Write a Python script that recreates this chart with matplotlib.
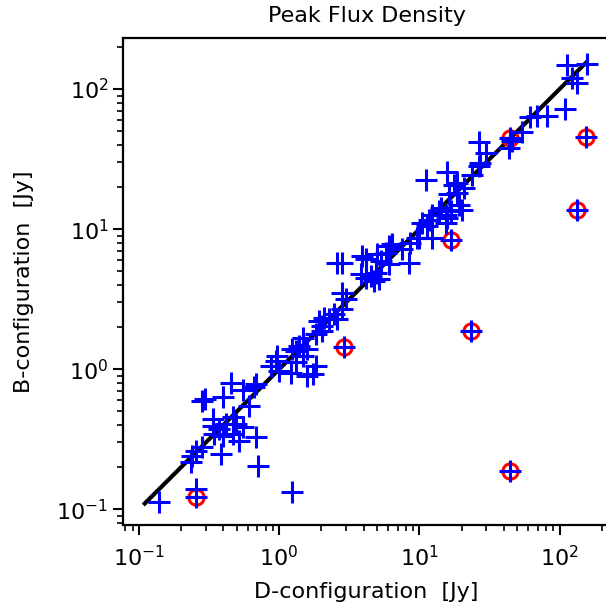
import numpy as np
import matplotlib
matplotlib.use('Agg')
import matplotlib.pyplot as plt

# D-configuration vs B-configuration peak flux (Jy)
d_flux = [112.7, 156, 122, 134, 110, 81.2, 68.9, 61.9, 53.9, 44.6,
          45.5, 43.4, 26.5, 30.1, 27.3, 26.5, 23.8, 154, 134, 11.07,
          15.8, 17.6, 20.7, 18.6, 16.2, 19.1, 12.3, 13.8, 15.4, 15.4,
          10.5, 11.7, 12.3, 9.92, 16.8, 6.40, 7.54, 5.75, 5.29, 8.42,
          6.07, 3.92, 4.14, 2.60, 2.82, 4.88, 4.49, 4.14, 4.75, 5.15,
          2.82, 2.98, 2.82, 2.46, 2.27, 2.09, 1.93, 2.03, 2.60, 2.90,
          23.4, 1.39, 1.31, 1.47, 1.24, 1.31, 1.21, 1.59, 1.82, 0.947,
          0.873, 1.0, 0.453, 0.548, 0.664, 0.611, 0.395, 0.284, 0.297, 0.683,
          0.465, 0.335, 0.335, 0.374, 0.417, 0.492, 0.548, 0.345, 0.395, 0.465,
          0.519, 0.683, 0.284, 0.255, 0.241, 0.235, 0.385, 0.701, 0.255, 0.255,
          0.138, 1.23, 44.6, 1.47, 1.82, 2.03, 0.973, 1.59, 1.73, 3.81,
          5.01, 20.2, 14.2, 16.7, 15.8, 11.4, 9.64, 8.65, 6.07, 18.6]
b_flux = [149, 151, 120, 110.5, 72.5, 64.6, 64.6, 63.2, 49.1, 44.8,
          42.4, 38.0, 41.7, 35.0, 29.7, 28.1, 24.5, 45.6, 13.8, 22.6,
          25.5, 20.8, 19.7, 18.2, 17.7, 14.8, 12.7, 13.4, 12.7, 11.1,
          11.1, 11.7, 8.68, 8.68, 8.35, 7.78, 7.17, 6.79, 5.92, 5.76,
          5.60, 6.42, 6.08, 5.76, 5.76, 4.89, 4.62, 4.50, 4.26, 4.38,
          3.52, 3.16, 2.68, 2.47, 2.27, 2.34, 2.21, 2.04, 2.27, 1.43,
          1.87, 1.47, 1.35, 1.24, 1.39, 1.12, 0.947, 0.896, 1.06, 1.15,
          1.06, 0.972, 0.804, 0.712, 0.741, 0.547, 0.629, 0.594, 0.611, 0.782,
          0.453, 0.440, 0.394, 0.374, 0.406, 0.406, 0.384, 0.344, 0.335, 0.344,
          0.308, 0.326, 0.277, 0.262, 0.241, 0.216, 0.248, 0.205, 0.140, 0.122,
          0.112, 0.132, 0.188, 1.68, 1.78, 1.87, 1.24, 1.39, 0.93, 4.75,
          6.6, 13.8, 14.2, 13.4, 12.1, 10.5, 8.68, 8.0, 7.57, 21.4]

# flagged sources (red circles)
flag_d = [44.6, 154, 134, 16.8, 2.90, 23.4, 0.255, 44.6]
flag_b = [44.8, 45.6, 13.8, 8.35, 1.43, 1.87, 0.122, 0.188]

line_x = [0.11, 155]
lims = [0.077, 230]

fig = plt.figure(figsize=(6.06, 6.10), dpi=100)
ax = fig.add_axes([0.203, 0.139, 0.804, 0.798])

ax.plot(line_x, line_x, color='black', lw=3, zorder=1)
ax.plot(flag_d, flag_b, 'o', ms=11, mfc='none', mec='red', mew=2.2, zorder=2)
ax.plot(d_flux, b_flux, '+', ms=16, color='blue', mew=2.2, zorder=3)

ax.set_xscale('log')
ax.set_yscale('log')
ax.set_xlim(lims)
ax.set_ylim(lims)

for s in ax.spines.values():
    s.set_linewidth(1.6)
ax.tick_params(which='major', length=7, width=1.5, labelsize=16)
ax.tick_params(which='minor', length=4, width=1.2)
ax.tick_params(axis='x', which='major', pad=7)

ax.set_xlabel('D-configuration  [Jy]', fontsize=16, labelpad=9)
ax.set_ylabel('B-configuration  [Jy]', fontsize=16, labelpad=16)
ax.set_title('Peak Flux Density', fontsize=16, pad=12)

fig.savefig('out.png', dpi=100)
